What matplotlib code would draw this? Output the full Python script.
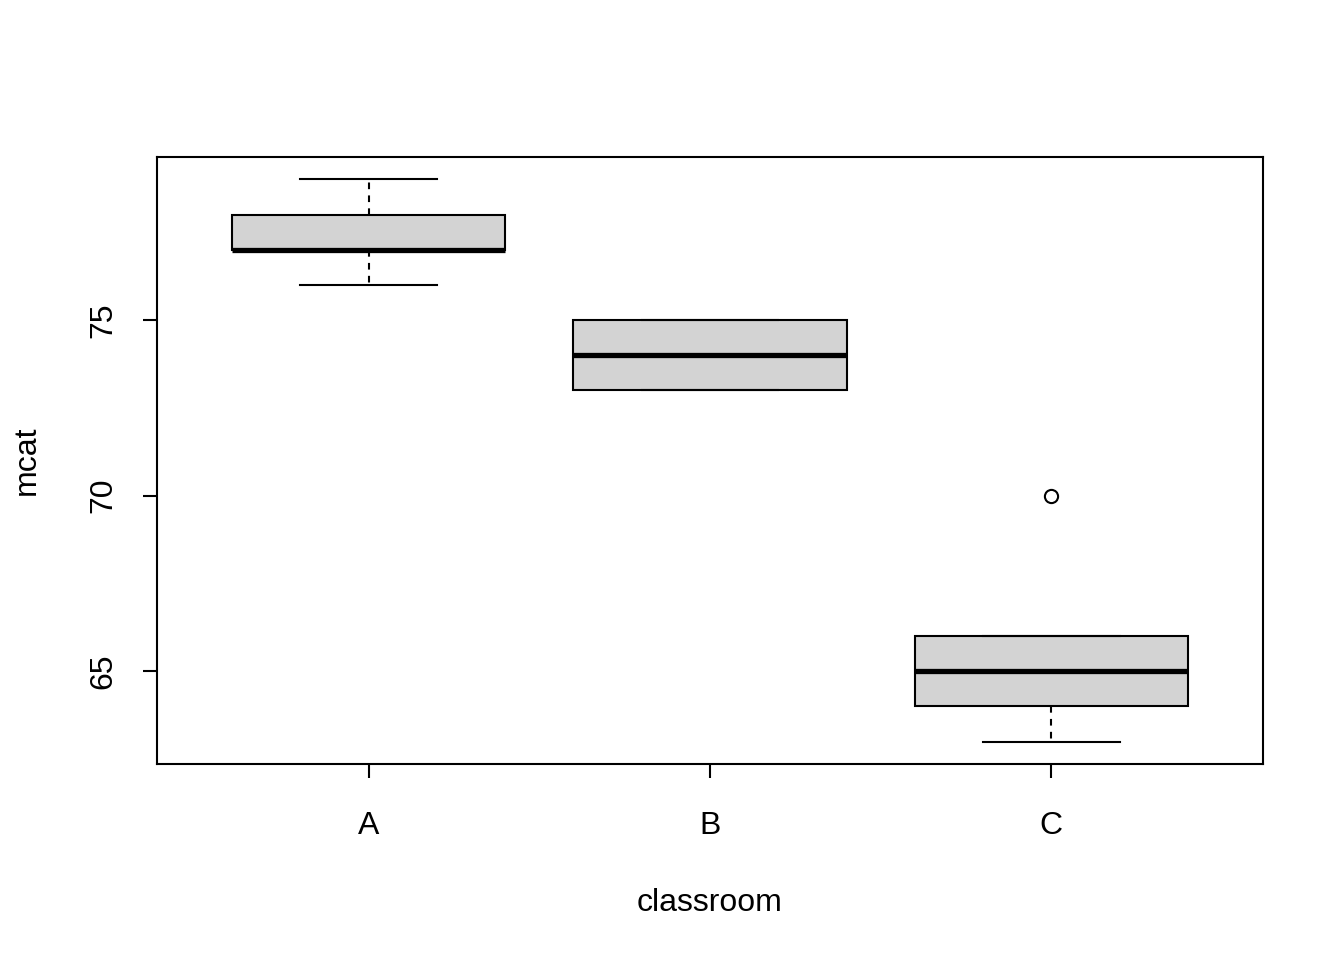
import matplotlib.pyplot as plt

plt.rcParams["font.family"] = ["Liberation Sans", "DejaVu Sans"]

classrooms = ["A", "B", "C"]
whisker_low = [76, 73, 63]
box_low = [77, 73, 64]
medians = [77, 74, 65]
box_high = [78, 75, 66]
whisker_high = [79, 75, 66]
outliers = [[], [], [70]]

stats = []
for i, name in enumerate(classrooms):
    stats.append({
        "label": name,
        "whislo": whisker_low[i],
        "q1": box_low[i],
        "med": medians[i],
        "q3": box_high[i],
        "whishi": whisker_high[i],
        "fliers": outliers[i],
    })

fig = plt.figure(figsize=(13.44, 9.6), dpi=100)
ax = fig.add_axes([157 / 1344, 1 - 764 / 960, (1263 - 157) / 1344, (764 - 157) / 960])

ax.bxp(stats, positions=[1, 2, 3], widths=0.8, patch_artist=True,
       boxprops=dict(facecolor="#D3D3D3", edgecolor="black", linewidth=1.5),
       medianprops=dict(color="black", linewidth=3.8, solid_capstyle="butt"),
       whiskerprops=dict(color="black", linewidth=1.5, linestyle=(0, (3.2, 3))),
       capprops=dict(color="black", linewidth=1.5),
       capwidths=0.4,
       flierprops=dict(marker="o", markerfacecolor="none", markeredgecolor="black",
                       markersize=9.5, markeredgewidth=1.5))

ax.set_xlim(0.38, 3.62)
ax.set_ylim(62.36, 79.64)
ax.set_yticks([65, 70, 75])
ax.set_yticklabels(["65", "70", "75"], rotation=90, va="center")
ax.set_xticks([1, 2, 3])
ax.set_xticklabels(classrooms)
ax.tick_params(axis="both", length=10, width=1.5, labelsize=23)
ax.tick_params(axis="x", pad=24)
ax.tick_params(axis="y", pad=18)
for s in ax.spines.values():
    s.set_linewidth(1.5)

ax.set_xlabel("classroom", fontsize=23, labelpad=34)
ax.set_ylabel("mcat", fontsize=23, labelpad=33)

fig.savefig("out.png", dpi=100)
